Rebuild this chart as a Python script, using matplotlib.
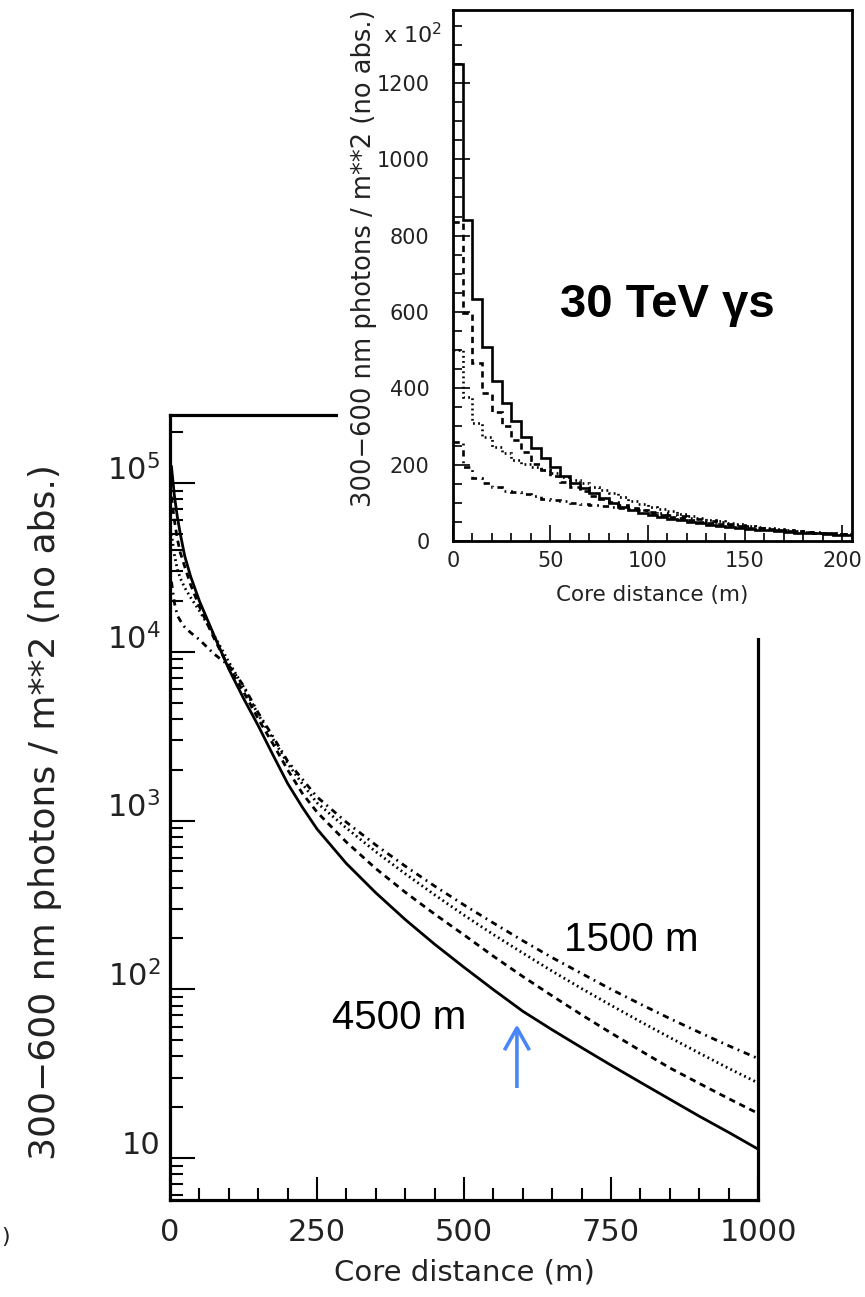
import matplotlib
matplotlib.use('Agg')
import matplotlib.pyplot as plt
import numpy as np
from matplotlib.ticker import FixedLocator, MultipleLocator, NullFormatter, FuncFormatter
from matplotlib.patches import Rectangle
import matplotlib.transforms as mtransforms

plt.rcParams['font.family'] = ['DejaVu Sans']
plt.rcParams['mathtext.fontset'] = 'dejavusans'
plt.rcParams['lines.scale_dashes'] = False

# ---------------- main plot data (photons / m^2 vs core distance) ----------------
core_distance_m = [2.5, 7.5, 12.5, 17.5, 25, 35, 50, 75, 100, 125, 150, 175, 200, 225, 250,
                   300, 350, 400, 450, 500, 550, 600, 650, 700, 750, 800, 850, 900, 950, 1000]
density_4500m = [125000, 84000, 63000, 50000, 37000, 28000, 20000, 12500, 7900, 5300, 3650,
                 2450, 1660, 1200, 891, 556, 373, 259, 185, 135, 99.5, 74.1, 57.5, 45.1, 35.5,
                 28.1, 22.3, 17.7, 14.2, 11.3]
density_dashed = [83000, 60000, 46600, 38700, 32000, 25000, 18500, 12000, 8100, 5800, 4000,
                  2850, 2000, 1450, 1122, 745, 519, 376, 279, 210, 157, 119, 91.4, 70.6, 55.1,
                  43.3, 34.2, 27.7, 22.5, 18.4]
density_dotted = [50000, 37600, 30800, 27300, 24000, 21000, 17500, 12500, 8700, 6200, 4250,
                  3050, 2180, 1650, 1274, 902, 653, 484, 363, 275, 211, 164, 128, 101, 80.4,
                  64.3, 51.8, 41.9, 34.0, 27.9]
density_1500m = [26000, 19500, 16400, 15300, 14000, 13000, 11800, 9700, 8300, 6300, 4350,
                 3150, 2250, 1760, 1380, 977, 716, 537, 409, 316, 247, 194, 154, 124, 100,
                 81.7, 67.1, 55.6, 46.3, 38.9]

main_xticks = [0, 250, 500, 750, 1000]
main_yticks = [10, 100, 1000, 10000, 100000]

# ---------------- inset histogram data (x 10^2 photons / m^2, 5 m bins) ----------------
inset_bin_edges = list(range(0, 210, 5))
inset_4500m = [1250, 841, 633, 507, 420, 361, 314, 273, 244, 217, 193, 170, 153, 140, 125, 112,
               100, 90, 81, 74, 68, 63, 58, 54, 50, 46, 43, 40, 37, 35, 32, 30, 28, 26, 24, 22,
               21, 20, 18, 17, 16]
inset_dashed = [835, 597, 466, 387, 339, 300, 265, 234, 203, 186, 170, 155, 142, 130, 119, 110,
                101, 93, 86, 80, 74, 69, 64, 59, 55, 51, 47, 44, 41, 38, 35, 33, 31, 29, 27, 25,
                23, 22, 21, 20, 19]
inset_dotted = [500, 376, 308, 273, 247, 230, 212, 203, 195, 186, 177, 168, 160, 151, 142, 133,
                125, 116, 106, 98, 90, 84, 78, 72, 66, 61, 56, 52, 48, 44, 40, 37, 34, 31, 28, 26,
                24, 22, 20, 19, 18]
inset_1500m = [260, 195, 164, 153, 142, 132, 128, 122, 118, 111, 108, 105, 100, 97, 94, 92, 89,
               86, 83, 80, 77, 73, 69, 65, 61, 57, 53, 49, 45, 41, 38, 35, 32, 30, 28, 26, 24,
               23, 21, 20, 19]
inset_xticks = [0, 50, 100, 150, 200]
inset_yticks = [0, 200, 400, 600, 800, 1000, 1200]

# ---------------- figure ----------------
W, H = 865, 1297
fig = plt.figure(figsize=(W / 100, H / 100), dpi=100)

def fx(px):
    return px / W

def fy(py):
    return 1 - py / H

styles = [
    dict(linestyle='-'),
    dict(linestyle=(0, (4.5, 3.5))),
    dict(linestyle=(0, (1.3, 2.4))),
    dict(linestyle=(0, (4.5, 3.5, 1.3, 3.5))),
]

# main axes
ax = fig.add_axes([fx(170), fy(1200), fx(758) - fx(170), fy(415) - fy(1200)])
ax.set_zorder(0)
for ys, st in zip([density_4500m, density_dashed, density_dotted, density_1500m], styles):
    ax.plot(core_distance_m, ys, color='black', lw=2.0, **st)
ax.set_yscale('log')
ax.set_xlim(0, 1000)
ax.set_ylim(5.64, 2.53e5)
for s in ax.spines.values():
    s.set_linewidth(2.3)
ax.xaxis.set_major_locator(FixedLocator(main_xticks))
ax.xaxis.set_minor_locator(MultipleLocator(50))
ax.yaxis.set_major_locator(FixedLocator(main_yticks))
minor_y = [m * 10 ** e for e in range(0, 6) for m in range(2, 10)]
ax.yaxis.set_minor_locator(FixedLocator(minor_y))
ax.yaxis.set_minor_formatter(NullFormatter())

def logfmt(v, pos):
    e = int(round(np.log10(v)))
    return '10' if e == 1 else r'$10^{%d}$' % e

ax.yaxis.set_major_formatter(FuncFormatter(logfmt))
ax.tick_params(axis='both', which='both', direction='in', top=False, right=False,
               colors='black', labelcolor='#222222')
ax.tick_params(axis='y', which='major', length=18, width=1.5, labelsize=22, pad=7)
ax.tick_params(axis='y', which='minor', length=9.5, width=1.5)
ax.tick_params(axis='x', which='major', length=16.5, width=1.5, labelsize=22, pad=13)
ax.tick_params(axis='x', which='minor', length=8.5, width=1.5)
off = mtransforms.ScaledTranslation(0, 16 / 100, fig.dpi_scale_trans)
for lab in ax.get_yticklabels():
    lab.set_transform(lab.get_transform() + off)

fig.text(fx(464), fy(1273), 'Core distance (m)', ha='center', va='center',
         fontsize=21, color='#222222')
fig.text(fx(45), fy(812), '300\u2212600 nm photons / m**2 (no abs.)', rotation=90,
         ha='center', va='center', fontsize=26, color='#222222')

ax.text(276, 58, '4500 m', fontsize=29, family=['Liberation Sans', 'DejaVu Sans'],
        ha='left', va='baseline')
ax.text(670, 168, '1500 m', fontsize=29, family=['Liberation Sans', 'DejaVu Sans'],
        ha='left', va='baseline')
ax.annotate('', xy=(590, 62), xytext=(590, 26),
            arrowprops=dict(arrowstyle='->,head_length=0.8,head_width=0.45',
                            color='#4a86f7', lw=2.6, mutation_scale=20,
                            shrinkA=0, shrinkB=0, capstyle='butt'))

# white panel behind the inset
fig.add_artist(Rectangle((fx(338), fy(638)), 1, 1, transform=fig.transFigure,
                         facecolor='white', edgecolor='none', zorder=1))

# inset axes
ax2 = fig.add_axes([fx(453), fy(541), fx(852) - fx(453), fy(10) - fy(541)])
ax2.set_zorder(2)
for vals, st in zip([inset_4500m, inset_dashed, inset_dotted, inset_1500m], styles):
    ax2.stairs(vals, inset_bin_edges, color='black', baseline=None, lw=1.9, **st)
ax2.set_xlim(0, 205)
ax2.set_ylim(0, 1391)
for s in ax2.spines.values():
    s.set_linewidth(2.0)
ax2.xaxis.set_major_locator(FixedLocator(inset_xticks))
ax2.xaxis.set_minor_locator(MultipleLocator(10))
ax2.yaxis.set_major_locator(FixedLocator(inset_yticks))
ax2.yaxis.set_minor_locator(MultipleLocator(50))
ax2.tick_params(axis='both', which='both', direction='in', top=False, right=False,
                labelcolor='#222222')
ax2.tick_params(axis='y', which='major', length=12, width=1.2, labelsize=15, pad=17)
ax2.tick_params(axis='y', which='minor', length=6.5, width=1.2)
ax2.tick_params(axis='x', which='major', length=11.5, width=1.2, labelsize=15, pad=7)
ax2.tick_params(axis='x', which='minor', length=6, width=1.2)

fig.text(fx(652), fy(595), 'Core distance (m)', ha='center', va='center',
         fontsize=15.5, color='#222222', zorder=3)
fig.text(fx(364), fy(507), '300\u2212600 nm photons / m**2 (no abs.)', rotation=90,
         ha='center', va='bottom', fontsize=18.5, color='#222222', zorder=3)
fig.text(fx(383), fy(35), r'x $10^{2}$', ha='left', va='center', fontsize=16,
         color='#222222', zorder=3)
fig.text(fx(560), fy(317), '30 TeV \u03b3s', ha='left', va='baseline', fontsize=34,
         fontweight='bold', family=['Liberation Sans', 'DejaVu Sans'], zorder=3)

fig.text(fx(1), fy(1237), ')', ha='left', va='center', fontsize=16, color='#222222')

fig.savefig('out.png', dpi=100)
